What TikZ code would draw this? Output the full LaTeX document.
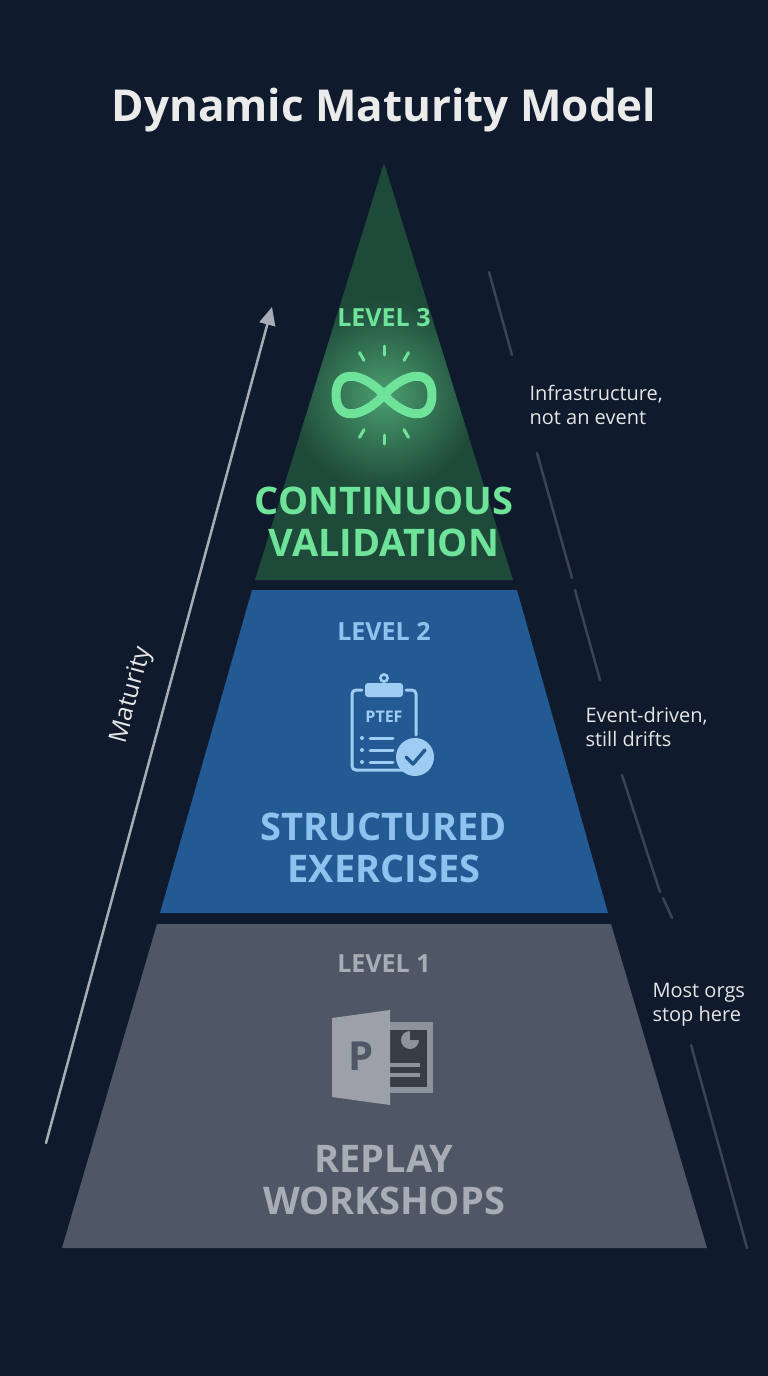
\documentclass[tikz,border=0pt]{standalone}
\usepackage{fontspec}
\setmainfont{Open Sans}
\usetikzlibrary{arrows.meta,positioning}
\definecolor{bgnavy}{HTML}{0F1A2C}
\definecolor{lvlgreen}{HTML}{1E4A3A}
\definecolor{lvlblue}{HTML}{245A93}
\definecolor{lvlgray}{HTML}{4F5766}
\definecolor{txtgreen}{HTML}{6FE39A}
\definecolor{txtblue}{HTML}{8EC3F0}
\definecolor{txtgray}{HTML}{A8ADB5}
\definecolor{guide}{HTML}{3A4456}
\tikzset{
  tier/.style={font=\fontsize{38}{40}\selectfont\bfseries, align=center},
  levellabel/.style={font=\fontsize{25}{28}\selectfont\bfseries},
  note/.style={font=\fontsize{20}{24}\selectfont, text=white!90!black, align=left, anchor=west},
}
\begin{document}
\begin{tikzpicture}[x=1pt,y=-1pt,line cap=round, line join=round]
  \fill[bgnavy] (0,0) rectangle (768,1376);
  \useasboundingbox (0,0) rectangle (768,1376);
  \node[font=\fontsize{44}{50}\selectfont\bfseries, text=white!92!black] (title) at (384,110) {Dynamic Maturity Model};
  % tiers
  \fill[lvlgreen] (384,163) -- (513,580) -- (255,580) -- cycle;
  \begin{scope}
    \clip (384,163) -- (513,580) -- (255,580) -- cycle;
    \shade[inner color=txtgreen!55!lvlgreen, outer color=lvlgreen] (384,395) circle (95);
  \end{scope}
  \fill[lvlblue] (252,590) -- (517,590) -- (608,913) -- (160,913) -- cycle;
  \fill[lvlgray] (157,924) -- (611,924) -- (707,1248) -- (62,1248) -- cycle;
  % level 3
  \node[levellabel, text=txtgreen] (lvl3) at (384,318) {LEVEL 3};
  \draw[txtgreen, line width=9pt, line cap=butt] (384,395)
    .. controls (405,372) and (432,368) .. (432,395)
    .. controls (432,422) and (405,418) .. (384,395)
    .. controls (363,372) and (336,368) .. (336,395)
    .. controls (336,422) and (363,418) .. (384,395);
  \foreach \a in {-60,-90,-120,60,90,120}
    \draw[txtgreen, line width=3pt] (384,395) ++(\a:40) -- ++(\a:9);
  \node[tier, text=txtgreen] (cv) at (384,522) {CONTINUOUS\\[2pt]VALIDATION};
  % level 2
  \node[levellabel, text=txtblue] (lvl2) at (384,631) {LEVEL 2};
  \draw[txtblue!85!white, line width=3pt, rounded corners=4] (362,690) -- (352,690) -- (352,770) -- (408,770);
  \draw[txtblue!85!white, line width=3pt, rounded corners=4] (406,690) -- (416,690) -- (416,735);
  \fill[txtblue!85!white, rounded corners=3] (365,683) rectangle (403,697);
  \fill[txtblue!85!white] (384,678) circle (5);
  \fill[lvlblue] (384,678) circle (2);
  \node[font=\fontsize{16}{16}\selectfont\bfseries, text=txtblue!85!white] (ptef) at (384,717) {PTEF};
  \foreach \y in {738,750,762} {
    \fill[txtblue!85!white] (362,\y) circle (2);
    \draw[txtblue!85!white, line width=3pt] (370,\y) -- (393,\y);
  }
  \fill[txtblue!85!white] (415,757) circle (19);
  \draw[lvlblue, line width=3.5pt] (406,757) -- (413,764) -- (425,750);
  \node[tier, text=txtblue] (se) at (384,848) {STRUCTURED\\[2pt]EXERCISES};
  % level 1
  \node[levellabel, text=txtgray] (lvl1) at (384,964) {LEVEL 1};
  \fill[txtgray!70!lvlgray] (372,1022) rectangle (433,1093);
  \fill[lvlgray!70!black] (378,1030) rectangle (427,1087);
  \fill[txtgray!70!lvlgray] (384,1063) rectangle (420,1067);
  \fill[txtgray!70!lvlgray] (384,1073) rectangle (420,1077);
  \fill[txtgray!70!lvlgray] (410,1040) circle (9);
  \fill[lvlgray!70!black] (410,1040) -- ++(0,-10) arc (-90:0:10) -- cycle;
  \fill[txtgray!85!lvlgray] (332,1018) -- (390,1010) -- (390,1105) -- (332,1097) -- cycle;
  \node[font=\fontsize{40}{40}\selectfont\bfseries, text=lvlgray] (pee) at (361,1056) {P};
  \node[tier, text=txtgray] (rw) at (384,1180) {REPLAY\\[2pt]WORKSHOPS};
  % maturity axis
  \coordinate (axfrom) at (46,1143);
  \coordinate (axto) at (272,307);
  \draw[txtgray, line width=2.5pt, -{Triangle[length=18pt,width=16pt]}] (axfrom) -- (axto);
  \node[font=\fontsize{25}{28}\selectfont, text=white!90!black, rotate=74.9] (mat) at (132,695) {Maturity};
  % right guide and notes
  \coordinate (g1a) at (489,272); \coordinate (g1b) at (512,355);
  \coordinate (g2a) at (537,453); \coordinate (g2b) at (572,578);
  \coordinate (g3a) at (575,590); \coordinate (g3b) at (600,680);
  \coordinate (g4a) at (622,775); \coordinate (g4b) at (660,892);
  \coordinate (g5a) at (663,898); \coordinate (g5b) at (672,918);
  \coordinate (g6a) at (691,1045); \coordinate (g6b) at (747,1248);
  \foreach \s in {1,...,6}
    \draw[guide, line width=2.5pt] (g\s a) -- (g\s b);
  \node[note] (n3) at (526,405) {Infrastructure,\\not an event};
  \node[note] (n2) at (582,727) {Event-driven,\\still drifts};
  \node[note] (n1) at (649,1005) {Most orgs\\stop here};
\end{tikzpicture}
\end{document}
